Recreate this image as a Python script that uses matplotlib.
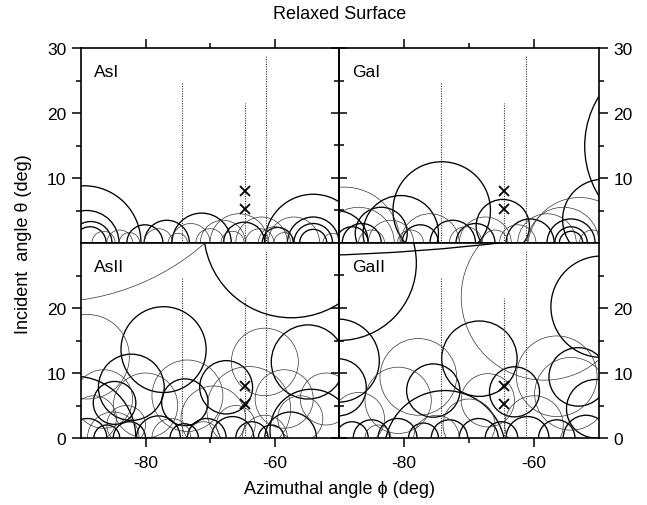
import numpy as np
import matplotlib
matplotlib.use("Agg")
import matplotlib.pyplot as plt
from matplotlib.patches import Circle
from matplotlib.ticker import FixedLocator

plt.rcParams["font.family"] = ["Liberation Sans", "DejaVu Sans"]

# --- data: circle centres (phi, theta), radii and strong/weak flag per panel ---
asI_phi = [-89.5, -89.1, -88.5, -88.6, -80.1, -76.7, -71.3, -64.7, -54.0, -54.0, -54.0,
           -54.0, -59.5, -62.3, -84.0, -78.0, -73.0, -68.0, -60.0, -62.0, -51.0, -82.5,
           -66.5, -57.0, -86.5, -75.0, -70.0, -65.5, -58.5]
asI_theta = [0] * 29
asI_rad = [8.8, 5.0, 3.3, 2.5, 2.8, 3.5, 4.6, 3.2, 7.5, 4.0, 3.0, 2.1, 2.4, 2.2, 2.0,
           2.2, 3.0, 3.5, 2.5, 4.0, 1.5, 1.6, 1.8, 4.0, 1.8, 1.5, 2.2, 4.5, 1.6]
asI_strong = [1] * 13 + [0] * 16

gaI_phi = [-90.5, -88.0, -86.5, -83.5, -80.5, -74.2, -77.5, -72.5, -69.0, -64.8, -60.6,
           -49.4, -37.7, -54.3, -54.3, -54.3, -89.2, -53.0, -87.0, -82.0, -76.0, -70.5,
           -67.5, -62.5, -58.0, -51.0, -85.0, -79.0, -66.0, -55.5]
gaI_theta = [0, 0, 0, 1.5, 1.5, 5.0, 0, 0, 0, 2.6, 0, 3.6, 14.9, 0, 0, 0, 0, -1.0, 0, 0,
             0, 0, 0, 0, 0, 0, 0, 0, 0, 0]
gaI_rad = [5.0, 2.5, 3.0, 4.0, 5.8, 7.5, 2.8, 3.5, 3.0, 4.1, 3.7, 6.2, 14.5, 3.7, 2.5,
           1.8, 8.6, 8.0, 5.5, 3.5, 4.5, 2.5, 4.0, 2.8, 4.5, 2.0, 2.0, 2.0, 2.0, 5.5]
gaI_strong = [1] * 16 + [0] * 14

asII_phi = [-57.4, -77.2, -82.2, -84.8, -73.9, -67.5, -54.8, -54.3, -57.5, -91.0, -89.0,
            -86.0, -82.5, -78.0, -74.0, -70.5, -66.5, -63.5, -60.5, -95.0, -89.0, -61.5,
            -64.0, -73.5, -86.5, -80.0, -58.5, -69.5, -52.0, -76.0, -71.0, -61.5, -85.0,
            -88.0, -83.0, -66.0, -56.0]
asII_theta = [32.1, 13.6, 7.8, 5.4, 5.5, 7.8, 11.7, 1.1, 0, 0, 0, 0, 0, 0, 0, 0, 0, 0, 0,
              57.7, 12.5, 11.7, 4.5, 6.5, 6.0, 5.0, 6.0, 3.0, 6.0, 0, 0, 0, 0,
              3.0, 2.0, 2.0, 3.0]
asII_rad = [13.6, 6.6, 5.1, 3.3, 3.6, 4.1, 5.7, 6.4, 4.0, 9.5, 3.0, 2.0, 2.5, 3.4, 2.2,
            3.0, 3.3, 2.5, 2.0, 36.8, 6.5, 5.2, 6.5, 5.5, 4.5, 5.0, 4.5, 5.0, 4.0, 3.0,
            2.5, 3.5, 4.0, 3.5, 3.0, 3.0, 3.5]
asII_strong = [1] * 19 + [0] * 18

gaII_phi = [-100.0, -90.0, -49.6, -53.2, -68.4, -75.5, -63.0, -90.2, -90.2, -73.7, -88.0,
            -85.0, -81.0, -77.0, -73.0, -68.5, -65.0, -61.0, -56.5, -52.0, -50.5, -58.4,
            -77.8, -80.9, -67.1, -54.3, -56.5, -87.0, -70.0, -60.0, -84.0, -75.0]
gaII_theta = [328.0, 26.9, 20.2, 9.4, 12.2, 7.3, 7.1, 11.9, 7.8, -2.0, 0, 0, 0, 0, 0, 0,
              0, 0, 0, 0, 4.5, 21.7, 9.4, 5.8, 5.8, 6.8, 9.5, 3.0, 2.0, 2.0, 0, 0]
gaII_rad = [300.0, 11.9, 7.8, 4.5, 5.8, 4.1, 3.85, 6.4, 4.4, 9.3, 2.5, 2.8, 3.0, 2.3, 2.8,
            3.0, 2.5, 3.3, 2.8, 3.5, 4.5, 12.8, 5.9, 5.1, 4.1, 5.6, 6.2, 4.0, 4.0, 4.5,
            2.0, 3.5]
gaII_strong = [1] * 21 + [0] * 11

# vertical guide lines and the two marked directions
guide_phi = [-74.3, -64.6, -61.3]
guide_top = [24.7, 21.6, 28.8]
mark_phi = [-64.6, -64.6]
mark_theta = [8.0, 5.3]

panels = [
    ("AsI", asI_phi, asI_theta, asI_rad, asI_strong, True, True),
    ("GaI", gaI_phi, gaI_theta, gaI_rad, gaI_strong, True, False),
    ("AsII", asII_phi, asII_theta, asII_rad, asII_strong, False, True),
    ("GaII", gaII_phi, gaII_theta, gaII_rad, gaII_strong, False, False),
]

W, H = 647, 506
fig = plt.figure(figsize=(W / 100, H / 100), dpi=100)

x_left, x_mid, x_right = 81, 339, 599
y_top, y_mid, y_bot = 49, 244, 439

for name, phi, theta, rad, strong, top_row, left_col in panels:
    x0 = x_left if left_col else x_mid
    x1 = x_mid if left_col else x_right
    y0 = y_mid if top_row else y_bot
    y1 = y_top if top_row else y_mid
    ax = fig.add_axes([x0 / W, 1 - y0 / H, (x1 - x0) / W, (y0 - y1) / H])
    ax.set_xlim(-90, -50)
    ax.set_ylim(0, 30)

    for cx, cy, r, s in zip(phi, theta, rad, strong):
        ax.add_patch(Circle((cx, cy), r, fill=False,
                            lw=0.95 if s else 0.5,
                            ec="black" if s else "#333333"))

    ax.vlines(guide_phi, 0, guide_top, colors="#333333", linestyles=(0, (1, 1.2)),
              lw=0.8)
    ax.plot(mark_phi, mark_theta, "x", color="black", ms=7, mew=1.3)
    ax.text(0.05, 0.88, name, transform=ax.transAxes, fontsize=12.5, va="center")

    for sp in ax.spines.values():
        sp.set_linewidth(1.2)

    # x ticks
    ax.xaxis.set_major_locator(FixedLocator([-80, -60]))
    ax.xaxis.set_minor_locator(FixedLocator([-70]))
    if top_row:
        ax.tick_params(axis="x", which="both", bottom=False, top=True,
                       labelbottom=False, labeltop=False, direction="out")
    else:
        ax.tick_params(axis="x", which="both", bottom=True, top=False,
                       labelbottom=True, direction="out")
        ax.set_xticklabels(["-80", "-60"])
    ax.tick_params(axis="x", which="major", length=6.5, width=1.1, labelsize=12.5, pad=6)
    ax.tick_params(axis="x", which="minor", length=3.6, width=1.1)

    # y ticks
    yt = [10, 20, 30] if top_row else [0, 10, 20]
    ax.yaxis.set_major_locator(FixedLocator(yt))
    ax.yaxis.set_minor_locator(FixedLocator([5, 15, 25]))
    if left_col:
        ax.tick_params(axis="y", which="both", left=True, right=False,
                       labelleft=True, direction="out")
    else:
        ax.tick_params(axis="y", which="both", left=False, right=True,
                       labelleft=False, labelright=True, direction="out")
        sec = ax.secondary_yaxis("left")
        sec.yaxis.set_major_locator(FixedLocator(yt))
        sec.yaxis.set_minor_locator(FixedLocator([5, 15, 25]))
        sec.tick_params(axis="y", which="both", direction="inout", labelleft=False)
        sec.tick_params(axis="y", which="major", length=11, width=1.1)
        sec.tick_params(axis="y", which="minor", length=7, width=1.1)
        sec.spines["left"].set_linewidth(1.2)
    ax.tick_params(axis="y", which="major", length=6.5, width=1.1, labelsize=12.5, pad=4)
    ax.tick_params(axis="y", which="minor", length=3.6, width=1.1)

fig.text(0.525, 0.972, "Relaxed Surface", ha="center", va="center", fontsize=13)
fig.text(0.525, 0.032, "Azimuthal angle \u03d5 (deg)", ha="center", va="center",
         fontsize=13)
fig.text(0.036, 0.518, "Incident  angle \u03b8 (deg)", ha="center", va="center",
         rotation=90, fontsize=13)

fig.savefig("out.png", dpi=100)
